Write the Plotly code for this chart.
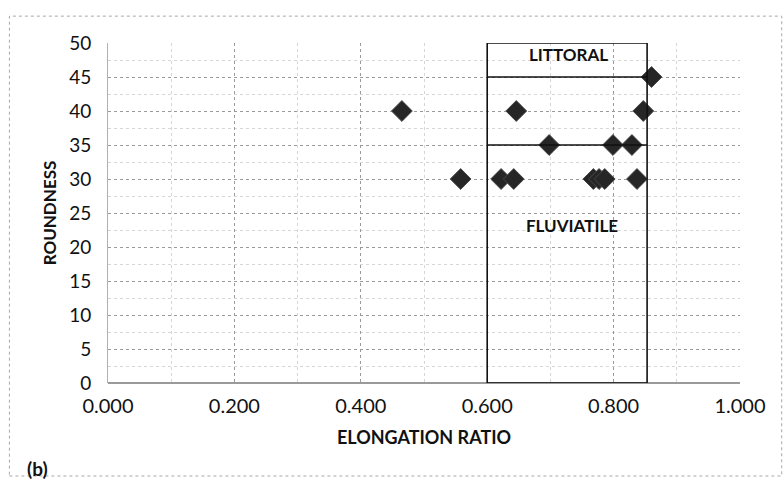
import plotly.graph_objects as go

# Elongation ratio vs roundness for the sampled pebbles
elongation = [0.465, 0.558, 0.622, 0.642, 0.646, 0.698, 0.768, 0.777,
              0.786, 0.799, 0.829, 0.837, 0.847, 0.860]
roundness = [40, 30, 30, 30, 40, 35, 30, 30,
             30, 35, 35, 30, 40, 45]

x_ticks = [0.0, 0.2, 0.4, 0.6, 0.8, 1.0]
x_tick_text = ["0.000", "0.200", "0.400", "0.600", "0.800", "1.000"]
y_ticks = [0, 5, 10, 15, 20, 25, 30, 35, 40, 45, 50]

# Environment field boundaries
field_x = [0.6, 0.853]
field_top = 50
littoral_floor = 45
fluviatile_top = 35

font_family = "Lato, 'Open Sans', sans-serif"
ink = "#111111"

fig = go.Figure()
fig.add_trace(go.Scatter(
    x=elongation, y=roundness, mode="markers",
    marker=dict(symbol="diamond", size=16, color="#262626",
                line=dict(color="#474747", width=1)),
    showlegend=False, hoverinfo="x+y",
))

line_style = dict(color=ink, width=1.6)
shapes = [
    dict(type="rect", xref="x", yref="y", x0=field_x[0], x1=field_x[1],
         y0=0, y1=field_top, line=line_style, layer="above"),
    dict(type="line", xref="x", yref="y", x0=field_x[0], x1=field_x[1],
         y0=littoral_floor, y1=littoral_floor, line=line_style),
    dict(type="line", xref="x", yref="y", x0=field_x[0], x1=field_x[1],
         y0=fluviatile_top, y1=fluviatile_top, line=line_style),
    # outer chart border
    dict(type="rect", xref="paper", yref="paper", x0=-0.156, x1=1.066,
         y0=-0.2735, y1=1.079, line=dict(color="#a8a8a8", width=1, dash="dot"),
         layer="below"),
]

annotations = [
    dict(x=0.729, y=48.3, xref="x", yref="y", text="<b>LITTORAL</b>",
         showarrow=False, font=dict(family=font_family, size=17, color=ink)),
    dict(x=0.734, y=23.2, xref="x", yref="y", text="<b>FLUVIATILE</b>",
         showarrow=False, font=dict(family=font_family, size=17, color=ink)),
    dict(x=-0.111, y=-0.25, xref="paper", yref="paper", text="<b>(b)</b>",
         xanchor="center", yanchor="middle",
         showarrow=False, font=dict(family=font_family, size=19, color=ink)),
]

grid_color = "#9a9a9a"
fig.update_layout(
    width=783, height=481,
    margin=dict(l=108, r=43, t=43, b=98),
    paper_bgcolor="white", plot_bgcolor="white",
    font=dict(family=font_family, color=ink),
    shapes=shapes, annotations=annotations,
    xaxis=dict(
        range=[0, 1.0], tickvals=x_ticks, ticktext=x_tick_text,
        tickfont=dict(size=20, color=ink), ticklabelstandoff=9,
        showgrid=True, gridcolor=grid_color, griddash="dot", gridwidth=1,
        minor=dict(dtick=0.1, showgrid=True, gridcolor="#d6d6d6", griddash="dot"),
        showline=False, zeroline=False,
        title=dict(text="<b>ELONGATION RATIO</b>", font=dict(size=18), standoff=15),
    ),
    yaxis=dict(
        range=[0, 50], tickvals=y_ticks,
        tickfont=dict(size=19, color=ink), ticklabelstandoff=12,
        showgrid=True, gridcolor=grid_color, griddash="dot", gridwidth=1,
        minor=dict(dtick=2.5, showgrid=True, gridcolor="#d6d6d6", griddash="dot"),
        showline=True, linecolor="#b0b0b0", linewidth=1,
        zeroline=True, zerolinecolor=grid_color,
        title=dict(text="<b>ROUNDNESS</b>", font=dict(size=17), standoff=8),
    ),
)

fig.write_html("out.html")
